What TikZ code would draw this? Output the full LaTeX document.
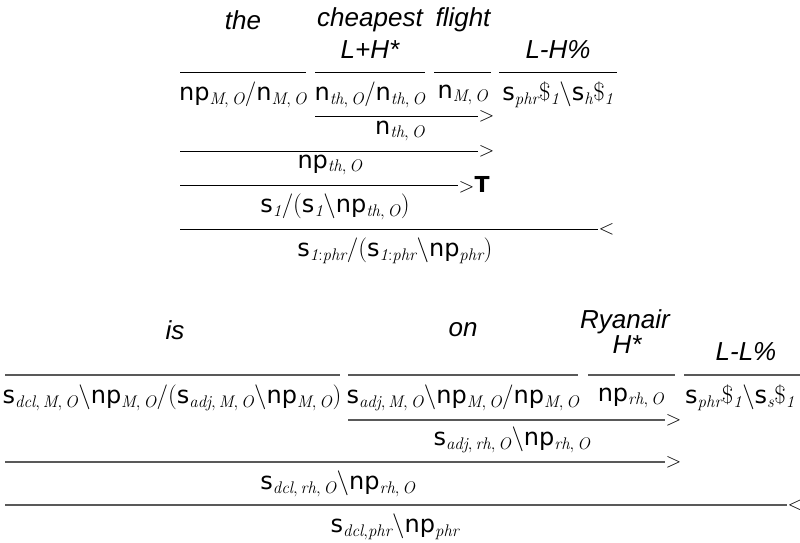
\documentclass[tikz,border=0pt]{standalone}
\usepackage{fontspec}
\setsansfont{DejaVu Sans}
\newfontfamily\wordfont{Liberation Sans}
\newcommand{\ct}[1]{\textsf{#1}}
\newcommand{\sbx}[1]{_{\mathit{#1}}}
\newcommand{\sbc}[2]{_{\mathit{#1},\,\mathit{#2}}}
\newcommand{\sbd}[3]{_{\mathit{#1},\,\mathit{#2},\,\mathit{#3}}}
\tikzset{
  word/.style={font=\fontsize{26}{28}\selectfont\wordfont\itshape, inner sep=0pt},
  catg/.style={font=\fontsize{24}{26}\selectfont, inner sep=0pt},
  rul/.style={line width=1pt, draw=black},
  rulg/.style={line width=1.3pt, draw=black!65},
  rop/.style={font=\fontsize{22}{24}\selectfont, inner sep=0.5pt, anchor=west},
}
\begin{document}
\begin{tikzpicture}[x=1pt,y=-1pt]
\clip (0,0) rectangle (800,543);
\fill[white] (0,0) rectangle (800,543);
% ---------------- top derivation
\node[word] (w1) at (243,20) {the};
\node[word] (w2) at (370,20) {cheapest};
\node[word] (w3) at (463,20) {flight};
\node[word] (p2) at (370,50) {L+H*};
\node[word] (p4) at (558,50) {L-H\%};
\coordinate (a1) at (180,72); \coordinate (b1) at (306,72);
\coordinate (a2) at (315,72); \coordinate (b2) at (425,72);
\coordinate (a3) at (434,72); \coordinate (b3) at (491,72);
\coordinate (a4) at (499,72); \coordinate (b4) at (617,72);
\draw[rul] (a1) -- (b1); \draw[rul] (a2) -- (b2); \draw[rul] (a3) -- (b3); \draw[rul] (a4) -- (b4);
\node[catg] (c1) at (243,95) {\ct{np}$\sbc{M}{O}/$\ct{n}$\sbc{M}{O}$};
\node[catg] (c2) at (370,95) {\ct{n}$\sbc{th}{O}/$\ct{n}$\sbc{th}{O}$};
\node[catg] (c3) at (463,95) {\ct{n}$\sbc{M}{O}$};
\node[catg] (c4) at (558,95) {\ct{s}$\sbx{phr}\$\sbx{1}\backslash$\ct{s}$\sbx{h}\$\sbx{1}$};
% step 1
\coordinate (s1a) at (315,116); \coordinate (s1b) at (478,116);
\draw[rul] (s1a) -- (s1b);
\node[rop] (o1) at (s1b) {$>$};
\node[catg] (d1) at (400,131) {\ct{n}$\sbc{th}{O}$};
% step 2
\coordinate (s2a) at (180,151); \coordinate (s2b) at (478,151);
\draw[rul] (s2a) -- (s2b);
\node[rop] (o2) at (s2b) {$>$};
\node[catg] (d2) at (330,165) {\ct{np}$\sbc{th}{O}$};
% step 3
\coordinate (s3a) at (180,185); \coordinate (s3b) at (458,185);
\draw[rul] (s3a) -- (s3b);
\node[rop] (o3) at (s3b) {$>$\ct{\bfseries T}};
\node[catg] (d3) at (335,207) {\ct{s}$\sbx{1}/($\ct{s}$\sbx{1}\backslash$\ct{np}$\sbc{th}{O})$};
% step 4
\coordinate (s4a) at (180,229); \coordinate (s4b) at (598,229);
\draw[rul] (s4a) -- (s4b);
\node[rop] (o4) at (s4b) {$<$};
\node[catg] (d4) at (395,251) {\ct{s}$\sbx{1:phr}/($\ct{s}$\sbx{1:phr}\backslash$\ct{np}$\sbx{phr})$};
% ---------------- bottom derivation
\node[word] (v1) at (175,330) {is};
\node[word] (v2) at (463,330) {on};
\node[word] (v3) at (625,322) {Ryanair};
\node[word] (q3) at (627,345) {H*};
\node[word] (q4) at (746,352) {L-L\%};
\coordinate (e1) at (5,375); \coordinate (f1) at (340,375);
\coordinate (e2) at (348,375); \coordinate (f2) at (578,375);
\coordinate (e3) at (588,375); \coordinate (f3) at (675,375);
\coordinate (e4) at (684,375); \coordinate (f4) at (812,375);
\draw[rulg] (e1) -- (f1); \draw[rulg] (e2) -- (f2); \draw[rulg] (e3) -- (f3); \draw[rulg] (e4) -- (f4);
\node[catg] (g1) at (172,398) {\ct{s}$\sbd{dcl}{M}{O}\backslash$\ct{np}$\sbc{M}{O}/($\ct{s}$\sbd{adj}{M}{O}\backslash$\ct{np}$\sbc{M}{O})$};
\node[catg] (g2) at (463,398) {\ct{s}$\sbd{adj}{M}{O}\backslash$\ct{np}$\sbc{M}{O}/$\ct{np}$\sbc{M}{O}$};
\node[catg] (g3) at (631,398) {\ct{np}$\sbc{rh}{O}$};
\node[catg, anchor=west] (g4) at (685,398) {\ct{s}$\sbx{phr}\$\sbx{1}\backslash$\ct{s}$\sbx{s}\$\sbx{1}$};
% steps
\coordinate (t1a) at (348,420); \coordinate (t1b) at (665,420);
\draw[rulg] (t1a) -- (t1b);
\node[rop] (r1) at (t1b) {$>$};
\node[catg] (h1) at (512,440) {\ct{s}$\sbd{adj}{rh}{O}\backslash$\ct{np}$\sbc{rh}{O}$};
\coordinate (t2a) at (5,462); \coordinate (t2b) at (665,462);
\draw[rulg] (t2a) -- (t2b);
\node[rop] (r2) at (t2b) {$>$};
\node[catg] (h2) at (338,484) {\ct{s}$\sbd{dcl}{rh}{O}\backslash$\ct{np}$\sbc{rh}{O}$};
\coordinate (t3a) at (5,505); \coordinate (t3b) at (787,505);
\draw[rulg] (t3a) -- (t3b);
\node[rop] (r3) at (t3b) {$<$};
\node[catg] (h3) at (395,527) {\ct{s}$\sbx{dcl,phr}\backslash$\ct{np}$\sbx{phr}$};
\end{tikzpicture}
\end{document}
